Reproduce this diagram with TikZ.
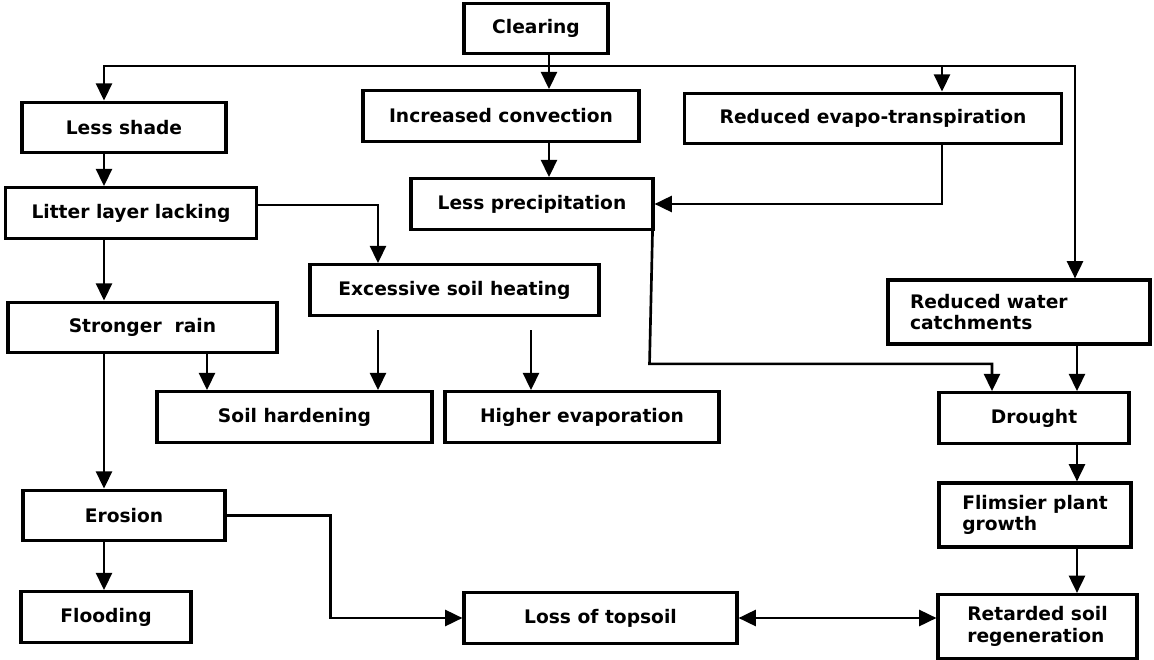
\documentclass[tikz,border=0pt]{standalone}
\usepackage{fontspec}
\setmainfont{DejaVu Sans}
\usepackage{tikz}
\usetikzlibrary{positioning,arrows.meta,calc}
\tikzset{
    box/.style={rectangle, draw, line width=2.3pt, minimum height=38pt, inner sep=2pt,
        font=\bfseries\fontsize{14}{16}\selectfont},
    tall box/.style={box, minimum height=48pt, align=left},
    flow/.style={-{Triangle[length=13pt,width=12pt]}, line width=2pt},
    both flow/.style={{Triangle[length=13pt,width=12pt]}-{Triangle[length=13pt,width=12pt]}, line width=2pt},
    gap/.style={shorten <=10pt}
}

\begin{document}
\begin{tikzpicture}[x=0.75pt, y=-0.75pt]
    \useasboundingbox (0,0) rectangle (1154,660);

    % Top: clearing and its direct effects
    \node[box, minimum width=108pt] (clearing) at (536,28.5) {Clearing};
    \node[box, minimum width=153pt] (shade) at (124,127.5) {Less shade};
    \node[box, minimum width=207pt] (convection) at (501,116) {Increased convection};
    \node[box, minimum width=282.75pt] (evapo) at (873,118.5) {Reduced evapo-transpiration};

    % Second row
    \node[box, minimum width=188.25pt] (litter) at (131,213) {Litter layer lacking};
    \node[box, minimum width=181.5pt] (precip) at (532,204) {Less precipitation};
    \node[box, minimum width=216.75pt] (heating) at (454.5,290) {Excessive soil heating};
    \node[box, minimum width=201.75pt] (rain) at (142.5,327.5) {Stronger\ \ rain};
    \node[tall box, text width=163.5pt, inner xsep=16.5pt] (catch) at (1019,312) {Reduced water\\catchments};

    % Third row
    \node[box, minimum width=206.25pt] (hardening) at (294.5,417) {Soil hardening};
    \node[box, minimum width=205.5pt] (evaporation) at (582,417) {Higher evaporation};
    \node[box, minimum width=142.5pt] (drought) at (1034,418) {Drought};

    % Bottom rows
    \node[box, minimum width=151.5pt] (erosion) at (124,515.5) {Erosion};
    \node[tall box, minimum width=144pt] (flimsy) at (1035,515) {Flimsier plant\\growth};
    \node[box, minimum width=127.5pt] (flooding) at (106,617) {Flooding};
    \node[box, minimum width=204.75pt] (topsoil) at (600.5,618) {Loss of topsoil};
    \node[tall box, minimum width=149.25pt] (retarded) at (1037.5,626.5) {Retarded soil\\regeneration};

    % Columns used by the vertical connectors
    \coordinate (fork) at (549,66);
    \coordinate (lcol) at (104,0);
    \coordinate (rcol) at (1077,0);
    \coordinate (hcol) at (378,0);

    % Clearing fan-out
    \draw[flow] (clearing.south -| fork) -- (convection.north -| fork);
    \draw[flow] (fork) -| (shade.north -| lcol);
    \draw[flow] (fork) -| ($(evapo.north)+(69,0)$);
    \draw[flow] (fork) -| (catch.north -| 1075,0);

    % Climate branch
    \draw[flow] (convection.south -| fork) -- (precip.north -| fork);
    \draw[flow] ($(evapo.south)+(69,0)$) |- (precip.east);
    \draw[flow] ($(precip.south east)+(-2,0)$) -- ++(-3,133) -| ($(drought.north)+(-42,0)$);
    \draw[flow] (catch.south -| rcol) -- (drought.north -| rcol);
    \draw[flow] (drought.south -| rcol) -- (flimsy.north -| rcol);
    \draw[flow] (flimsy.south -| rcol) -- (retarded.north -| rcol);

    % Soil branch
    \draw[flow] (shade.south -| lcol) -- (litter.north -| lcol);
    \draw[flow] (litter.south -| lcol) -- (rain.north -| lcol);
    \draw[flow] ($(litter.east)+(0,-8)$) -| (heating.north -| hcol);
    \draw[flow, gap] (heating.south -| hcol) -- (hardening.north -| hcol);
    \draw[flow, gap] (heating.south -| 531,0) -- (evaporation.north -| 531,0);
    \draw[flow] (rain.south -| 207,0) -- (hardening.north -| 207,0);
    \draw[flow] (rain.south -| lcol) -- (erosion.north -| lcol);
    \draw[flow] (erosion.south -| lcol) -- (flooding.north -| lcol);
    \draw[flow] (erosion.east) -- ++(104,0) |- (topsoil.west);
    \draw[both flow] (topsoil.east) -- (topsoil.east -| retarded.west);
\end{tikzpicture}
\end{document}
